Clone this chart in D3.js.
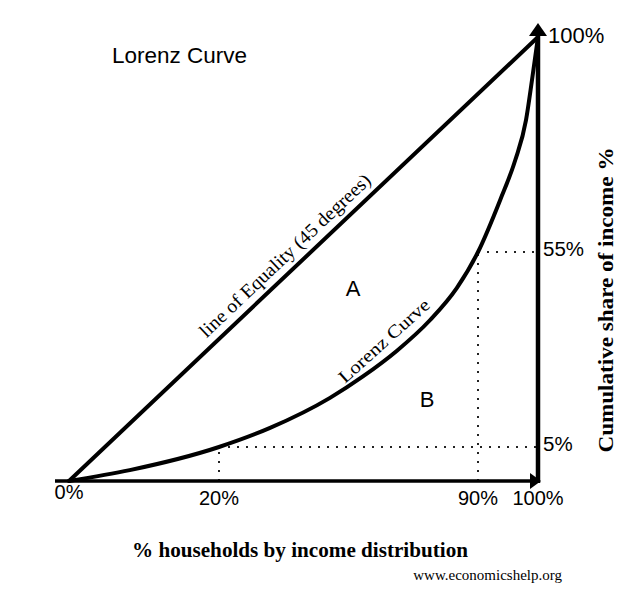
<!DOCTYPE html>
<html>
<head>
<meta charset="utf-8">
<script src="https://cdn.jsdelivr.net/npm/d3@7"></script>
<style>
  body { margin: 0; background: #fff; }
  .sans { font-family: "Liberation Sans", Arial, sans-serif; }
  .serif { font-family: "Liberation Serif", "Times New Roman", serif; }
</style>
</head>
<body>
<script>
// tick values (the picture is a sketch, so ticks are not evenly spaced)
var xTicks = [0, 20, 90, 100];
var yTicks = [5, 55, 100];

// dotted guide lines: 20% of households -> 5% of income, 90% -> 55%
var guideX = [20, 90];
var guideY = [5, 55];

// line of equality end points
var equalityX = [0, 100];
var equalityY = [0, 100];

// lorenz curve
var lorenzX = [0, 8.1, 20, 33.8, 50, 58.9, 68.1, 77, 84.3, 90, 93.7, 96.2, 98, 99, 100];
var lorenzY = [0, 1.6, 5, 9.9, 17.6, 23.1, 29.7, 37.5, 45.8, 55, 65.9, 74.2, 82.6, 91, 100];

var width = 638, height = 597;

var svg = d3.select("body").append("svg")
    .attr("width", width)
    .attr("height", height);

var x = d3.scaleLinear().domain(xTicks).range([69, 219, 478, 538]);
var y = d3.scaleLinear().domain([0].concat(yTicks)).range([481, 447, 252, 37]);

// dotted guides
guideX.forEach(function(gx, i) {
  var gy = guideY[i];
  svg.append("line")
      .attr("x1", x(gx)).attr("x2", x(gx))
      .attr("y1", y(0)).attr("y2", y(gy))
      .attr("stroke", "#222").attr("stroke-width", 2)
      .attr("stroke-dasharray", "2,7");
  svg.append("line")
      .attr("x1", x(gx)).attr("x2", x(100))
      .attr("y1", y(gy)).attr("y2", y(gy))
      .attr("stroke", "#222").attr("stroke-width", 2)
      .attr("stroke-dasharray", "2,7");
});

// axes: horizontal at the bottom, vertical on the right, with arrow heads
svg.append("line")
    .attr("x1", x(0) - 14).attr("x2", x(100) - 4)
    .attr("y1", y(0)).attr("y2", y(0))
    .attr("stroke", "#000").attr("stroke-width", 3.5);
svg.append("line")
    .attr("x1", x(100)).attr("x2", x(100))
    .attr("y1", y(0) + 2).attr("y2", y(100) - 4)
    .attr("stroke", "#000").attr("stroke-width", 4.5);
svg.append("path")
    .attr("d", "M" + (x(100) + 3) + "," + y(0) + "L" + (x(100) - 8) + "," + (y(0) - 8) +
               "L" + (x(100) - 8) + "," + (y(0) + 8) + "Z")
    .attr("fill", "#000");
svg.append("path")
    .attr("d", "M" + x(100) + "," + (y(100) - 14) + "L" + (x(100) - 9) + "," + (y(100) - 1) +
               "L" + (x(100) + 9) + "," + (y(100) - 1) + "Z")
    .attr("fill", "#000");

// line of equality
svg.append("line")
    .attr("x1", x(equalityX[0])).attr("y1", y(equalityY[0]))
    .attr("x2", x(equalityX[1])).attr("y2", y(equalityY[1]))
    .attr("stroke", "#000").attr("stroke-width", 4)
    .attr("stroke-linecap", "round");

// lorenz curve
var pts = lorenzX.map(function(d, i) { return [d, lorenzY[i]]; });
var line = d3.line()
    .x(function(d) { return x(d[0]); })
    .y(function(d) { return y(d[1]); })
    .curve(d3.curveMonotoneX);
svg.append("path")
    .datum(pts)
    .attr("d", line)
    .attr("fill", "none")
    .attr("stroke", "#000").attr("stroke-width", 4)
    .attr("stroke-linecap", "round");

// tick labels
svg.selectAll("text.xtick")
    .data(xTicks)
    .enter().append("text")
    .attr("class", "xtick sans")
    .attr("x", function(d) { return x(d); })
    .attr("y", function(d) { return y(0) + (d === 0 ? 18 : 24); })
    .attr("text-anchor", "middle")
    .attr("font-size", 20)
    .text(function(d) { return d + "%"; });

svg.selectAll("text.ytick")
    .data(yTicks)
    .enter().append("text")
    .attr("class", "ytick sans")
    .attr("x", function(d) { return x(100) + (d === 100 ? 10 : 5); })
    .attr("y", function(d) { return y(d) + (d === 100 ? 6 : 4); })
    .attr("font-size", function(d) { return d === 100 ? 22 : 20.5; })
    .text(function(d) { return d + "%"; });

// line of equality label
var a0 = [x(equalityX[0]), y(equalityY[0])], a1 = [x(equalityX[1]), y(equalityY[1])];
var eqAngle = Math.atan2(a1[1] - a0[1], a1[0] - a0[0]) * 180 / Math.PI;
var t = 0.483;
svg.append("text")
    .attr("class", "serif")
    .attr("transform", "translate(" + (a0[0] + t * (a1[0] - a0[0])) + "," +
          (a0[1] + t * (a1[1] - a0[1])) + ") rotate(" + eqAngle + ")")
    .attr("y", -9)
    .attr("text-anchor", "middle")
    .attr("font-size", 19)
    .attr("textLength", 228)
    .attr("lengthAdjust", "spacingAndGlyphs")
    .text("line of Equality (45 degrees)");

// lorenz curve label, on the curve near the 7th point
var k = 6;
var p0 = [x(lorenzX[k - 1]), y(lorenzY[k - 1])], p1 = [x(lorenzX[k + 1]), y(lorenzY[k + 1])];
var lzAngle = Math.atan2(p1[1] - p0[1], p1[0] - p0[0]) * 180 / Math.PI;
svg.append("text")
    .attr("class", "serif")
    .attr("transform", "translate(" + x(lorenzX[k]) + "," + y(lorenzY[k]) + ") rotate(" + (lzAngle - 2) + ")")
    .attr("x", -3)
    .attr("y", -10)
    .attr("text-anchor", "middle")
    .attr("font-size", 18)
    .attr("textLength", 116)
    .attr("lengthAdjust", "spacingAndGlyphs")
    .text("Lorenz Curve");

// areas
svg.append("text").attr("class", "sans")
    .attr("x", 353).attr("y", 296)
    .attr("text-anchor", "middle").attr("font-size", 22)
    .text("A");
svg.append("text").attr("class", "sans")
    .attr("x", 427).attr("y", 407)
    .attr("text-anchor", "middle").attr("font-size", 22)
    .text("B");

// title
svg.append("text").attr("class", "sans")
    .attr("x", 112).attr("y", 63)
    .attr("font-size", 22.5)
    .text("Lorenz Curve");

// axis titles
svg.append("text").attr("class", "serif")
    .attr("x", 300).attr("y", 557)
    .attr("text-anchor", "middle")
    .attr("font-size", 20).attr("font-weight", "bold")
    .attr("textLength", 336)
    .attr("lengthAdjust", "spacingAndGlyphs")
    .text("% households by income distribution");

svg.append("text").attr("class", "serif")
    .attr("transform", "translate(613,300) rotate(-90)")
    .attr("text-anchor", "middle")
    .attr("font-size", 20).attr("font-weight", "bold")
    .attr("textLength", 305)
    .attr("lengthAdjust", "spacingAndGlyphs")
    .text("Cumulative share of income %");

svg.append("text").attr("class", "serif")
    .attr("x", 562).attr("y", 580)
    .attr("text-anchor", "end")
    .attr("font-size", 15)
    .text("www.economicshelp.org");
</script>
</body>
</html>
